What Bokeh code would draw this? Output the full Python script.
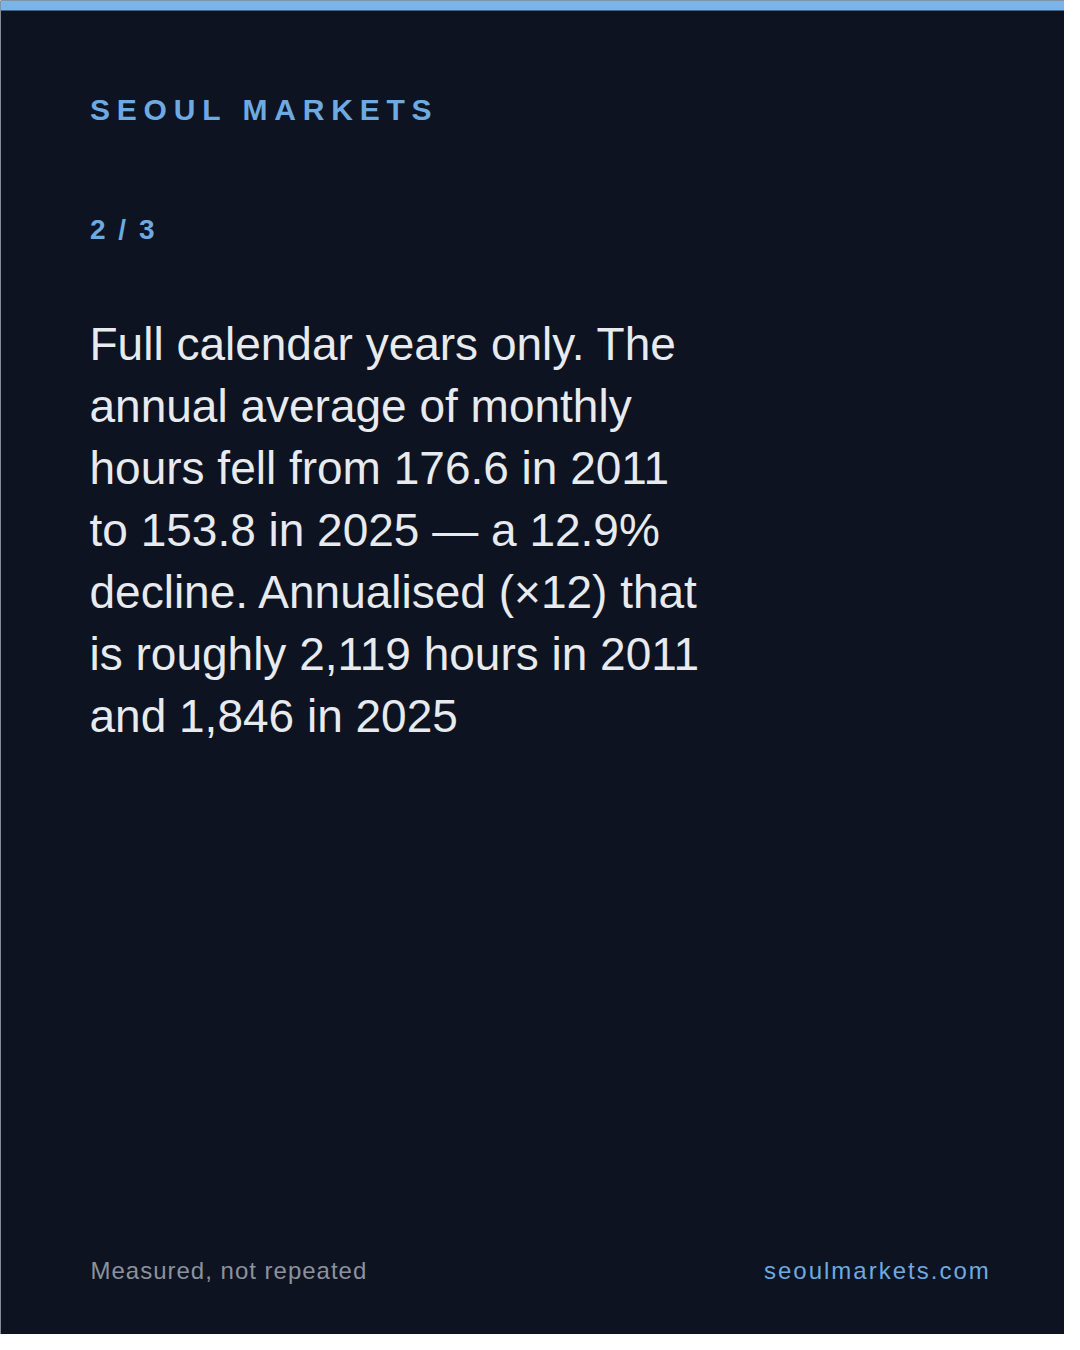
from bokeh.plotting import figure
from bokeh.models import ColumnDataSource
from bokeh.core.properties import value
from bokeh.embed import file_html
from bokeh.resources import INLINE

# ---- content ----
brand = "SEOUL MARKETS"
page_label = "2 / 3"
body_lines = [
    "Full calendar years only. The",
    "annual average of monthly",
    "hours fell from 176.6 in 2011",
    "to 153.8 in 2025 \u2014 a 12.9%",
    "decline. Annualised (\u00d712) that",
    "is roughly 2,119 hours in 2011",
    "and 1,846 in 2025",
]
footer_left = "Measured, not repeated"
footer_right = "seoulmarkets.com"

# ---- style ----
BG = "#0d1320"
ACCENT = "#7ab4e8"
BLUE = "#6eaae2"
BODY = "#e7eaef"
GREY = "#8b929e"
FONT = "Liberation Sans"
W, H = 1064, 1334
CENTRAL = 0.3465  # rendered anchor sits this many em above the alphabetic baseline

# Arial / Liberation Sans advance widths (per 1000 em)
ADV_BOLD = {'S': 667, 'E': 667, 'O': 778, 'U': 722, 'L': 611, ' ': 278, 'M': 833,
            'A': 722, 'R': 722, 'K': 722, 'T': 611, '2': 556, '3': 556, '/': 278}
ADV_REG = {'M': 833, 'e': 556, 'a': 556, 's': 500, 'u': 556, 'r': 333, 'd': 556,
           ',': 278, ' ': 278, 'n': 556, 'o': 556, 't': 278, 'p': 556, 'l': 222,
           'm': 833, 'k': 500, '.': 278, 'c': 500}


def spaced(s, x0, fs, track, adv):
    xs, x = [], x0
    for ch in s:
        xs.append(x)
        x += adv[ch] / 1000.0 * fs + track
    return xs


p = figure(width=W, height=H, x_range=(0, W), y_range=(H, 0),
           output_backend="svg", toolbar_location=None,
           x_axis_type=None, y_axis_type=None, min_border=0)
p.grid.visible = False
p.outline_line_color = None
p.background_fill_color = BG
p.border_fill_color = BG

# top accent bar
p.quad(left=0, right=W, top=0, bottom=10, fill_color=ACCENT, line_color=None)


def draw_spaced(s, x0, base, fs, track, adv, color, style):
    xs = spaced(s, x0, fs, track, adv)
    y = base - CENTRAL * fs
    src = ColumnDataSource(dict(x=xs, y=[y] * len(s), t=list(s)))
    p.text(x="x", y="y", text="t", source=src, text_font=value(FONT),
           text_font_size=f"{fs}px", text_font_style=style, text_color=color,
           text_align="left", text_baseline="alphabetic")


# brand and page label (tracked)
draw_spaced(brand, 89.5, 119, 30, 6.8, ADV_BOLD, BLUE, "bold")
draw_spaced(page_label, 89.5, 239, 28, 2.5, ADV_BOLD, BLUE, "bold")

# body paragraph
BODY_FS = 46
ys = [359.5 + 62 * i - CENTRAL * BODY_FS for i in range(len(body_lines))]
src = ColumnDataSource(dict(x=[89] * len(body_lines), y=ys, t=body_lines))
p.text(x="x", y="y", text="t", source=src, text_font=value(FONT),
       text_font_size=f"{BODY_FS}px", text_color=BODY, text_align="left",
       text_baseline="alphabetic")

# footer
draw_spaced(footer_left, 90, 1278, 24, 1.0, ADV_REG, GREY, "normal")
draw_spaced(footer_right, 763.5, 1278, 24, 2.0, ADV_REG, BLUE, "normal")

open("out.html", "w").write(file_html(p, INLINE))
